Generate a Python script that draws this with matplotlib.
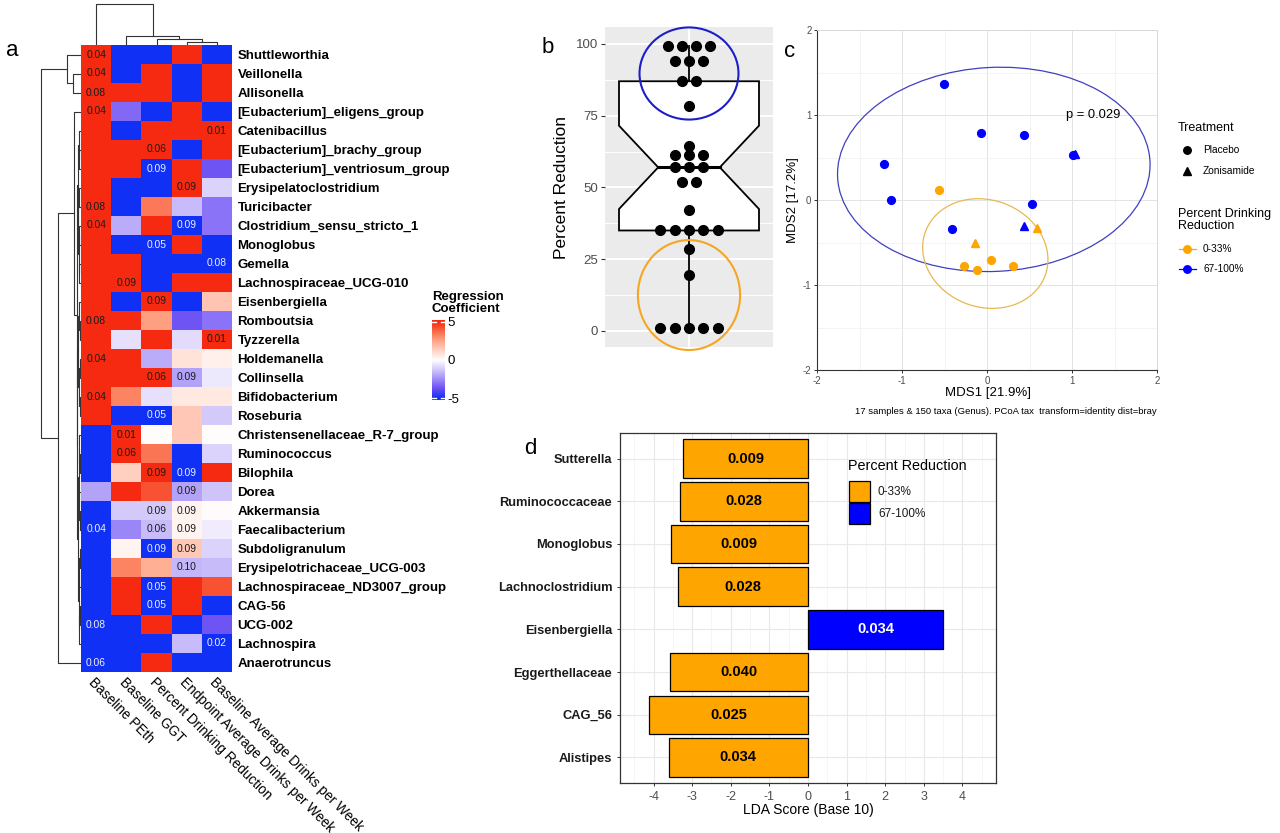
import numpy as np
import matplotlib
matplotlib.use('Agg')
import matplotlib.pyplot as plt
from matplotlib.colors import LinearSegmentedColormap
from matplotlib.patches import Ellipse, Polygon, Rectangle

plt.rcParams['font.family'] = ['Liberation Sans', 'DejaVu Sans']
plt.rcParams['axes.unicode_minus'] = False

# ------------------------------------------------------------------ data
# panel a : regression coefficients (rows = taxa, cols = clinical variables)
hm_taxa = ['Shuttleworthia', 'Veillonella', 'Allisonella', '[Eubacterium]_eligens_group',
           'Catenibacillus', '[Eubacterium]_brachy_group', '[Eubacterium]_ventriosum_group',
           'Erysipelatoclostridium', 'Turicibacter', 'Clostridium_sensu_stricto_1', 'Monoglobus',
           'Gemella', 'Lachnospiraceae_UCG-010', 'Eisenbergiella', 'Romboutsia', 'Tyzzerella',
           'Holdemanella', 'Collinsella', 'Bifidobacterium', 'Roseburia',
           'Christensenellaceae_R-7_group', 'Ruminococcus', 'Bilophila', 'Dorea', 'Akkermansia',
           'Faecalibacterium', 'Subdoligranulum', 'Erysipelotrichaceae_UCG-003',
           'Lachnospiraceae_ND3007_group', 'CAG-56', 'UCG-002', 'Lachnospira', 'Anaerotruncus']
hm_vars = ['Baseline PEth', 'Baseline GGT', 'Percent Drinking Reduction',
           'Endpoint Average Drinks per Week', 'Baseline Average Drinks per Week']
hm_coef = [
    [5, -5, -5, 5, -5],
    [5, -5, 5, -5, 5],
    [5, 5, 5, -5, 5],
    [5, -3.2, -5, 5, -5],
    [5, -5, 5, 5, 5],
    [5, 5, 5, -5, 5],
    [5, 5, -5, 5, -3.6],
    [5, -5, -5, 5, -1.0],
    [5, -5, 3.4, -1.5, -3.0],
    [5, -1.8, 5, -5, -3.0],
    [5, -5, -5, 5, -5],
    [5, 5, -5, -5, -5],
    [5, 5, -5, 5, 5],
    [5, -5, 5, -5, 1.6],
    [5, 5, 2.6, -3.6, -3.0],
    [5, -0.7, 5, -0.8, 5],
    [5, 5, -1.8, 0.8, 0.4],
    [5, 5, 5, -2.0, -0.5],
    [5, 3.2, -0.7, 0.6, 0.6],
    [5, -5, -5, 1.5, -1.2],
    [-5, 5, 0.05, 1.5, 0.05],
    [-5, 5, 3.5, -5, -1.0],
    [-5, 1.3, 5, -5, 5],
    [-2.0, 5, 4.2, -2.0, -1.3],
    [-5, -1.2, -1.2, 0.3, 0.1],
    [-5, -2.6, -1.5, 0.3, -0.4],
    [-5, 0.3, -5, 1.5, -1.0],
    [-5, 3.2, 2.2, -1.6, -1.5],
    [-5, 5, -5, 5, 4.2],
    [-5, 5, -5, 5, -5],
    [-5, -5, 5, -5, -3.6],
    [-5, -5, -5, -1.5, -5],
    [-5, -5, 5, -5, -5],
]
hm_pvals = [
    ['0.04', '', '', '', ''], ['0.04', '', '', '', ''], ['0.08', '', '', '', ''],
    ['0.04', '', '', '', ''], ['', '', '', '', '0.01'], ['', '', '0.06', '', ''],
    ['', '', '0.09', '', ''], ['', '', '', '0.09', ''], ['0.08', '', '', '', ''],
    ['0.04', '', '', '0.09', ''], ['', '', '0.05', '', ''], ['', '', '', '', '0.08'],
    ['', '0.09', '', '', ''], ['', '', '0.09', '', ''], ['0.08', '', '', '', ''],
    ['', '', '', '', '0.01'], ['0.04', '', '', '', ''], ['', '', '0.06', '0.09', ''],
    ['0.04', '', '', '', ''], ['', '', '0.05', '', ''], ['', '0.01', '', '', ''],
    ['', '0.06', '', '', ''], ['', '', '0.09', '0.09', ''], ['', '', '', '0.09', ''],
    ['', '', '0.09', '0.09', ''], ['0.04', '', '0.06', '0.09', ''], ['', '', '0.09', '0.09', ''],
    ['', '', '', '0.10', ''], ['', '', '0.05', '', ''], ['', '', '0.05', '', ''],
    ['0.08', '', '', '', ''], ['', '', '', '', '0.02'], ['0.06', '', '', '', ''],
]
# dendrograms: (height, left, right) ; leaves are row / column indices
row_tree = (1.0,
            (0.35, 0, (0.20, 1, 2)),
            (0.575,
             (0.175, 3,
              (0.10,
               (0.085, (0.06, 4, (0.045, 5, 6)),
                (0.07, (0.05, 7, 8), (0.06, (0.04, 9, 10), (0.05, 11, 12)))),
               (0.09,
                (0.065, (0.045, 13, (0.03, 14, 15)), (0.05, (0.035, 16, 17), (0.03, 18, 19))),
                (0.075, (0.055, (0.04, 20, (0.03, 21, 22)), (0.045, 23, (0.03, 24, 25))),
                 (0.06, (0.04, (0.03, 26, 27), 28), (0.05, (0.035, 29, 30), 31)))))),
             32))
col_tree = (1.0, 0, (0.22, 1, (0.146, 2, (0.073, 3, 4))))

# panel b : percent reduction
pct_reduction = [99.4, 99.4, 99.4, 99.4, 94, 94, 94, 87, 87, 78.5, 64.5, 61.3, 61.3, 61.3,
                 57, 57, 57, 52, 52, 42, 35, 35, 35, 35, 35, 28.5, 19.5, 1, 1, 1, 1, 1]

# panel c : PCoA
mds1 = [-0.505, -0.07, 0.43, -1.21, -1.13, 0.525, -0.41, 1.01, 1.04, 0.43,
        -0.56, 0.045, -0.27, -0.115, 0.30, -0.145, 0.59]
mds2 = [1.36, 0.79, 0.765, 0.42, 0.0, -0.045, -0.345, 0.53, 0.545, -0.30,
        0.12, -0.70, -0.78, -0.825, -0.775, -0.50, -0.33]
treatment = ['Placebo'] * 8 + ['Zonisamide'] * 2 + ['Placebo'] * 5 + ['Zonisamide'] * 2
reduction_group = ['67-100%'] * 10 + ['0-33%'] * 7
# ellipse (center x, center y, width, height, angle)
ellipses_c = {'67-100%': (0.08, 0.36, 3.68, 2.40, 3), '0-33%': (-0.02, -0.63, 1.50, 1.26, -20)}

# panel d : LDA
lda_taxa = ['Sutterella', 'Ruminococcaceae', 'Monoglobus', 'Lachnoclostridium',
            'Eisenbergiella', 'Eggerthellaceae', 'CAG_56', 'Alistipes']
lda_score = [-3.24, -3.31, -3.56, -3.36, 3.50, -3.585, -4.11, -3.61]
lda_p = ['0.009', '0.028', '0.009', '0.028', '0.034', '0.040', '0.025', '0.034']
lda_group = ['0-33%'] * 4 + ['67-100%'] + ['0-33%'] * 3

ORANGE = '#FFA500'
BLUE = '#0000FF'
grp_col = {'0-33%': ORANGE, '67-100%': BLUE}

# ------------------------------------------------------------------ figure
W, H = 1280, 833
fig = plt.figure(figsize=(12.8, 8.33), dpi=100)


def px_axes(x0, y0, x1, y1):
    return fig.add_axes([x0 / W, 1 - y1 / H, (x1 - x0) / W, (y1 - y0) / H])


cmap = LinearSegmentedColormap.from_list('bwr_lab', [
    (0.0, '#1030F5'), (0.125, '#6A4EF4'), (0.25, '#A08CF8'), (0.375, '#D2C8FA'),
    (0.5, '#FFFFFF'), (0.625, '#FFD2C3'), (0.75, '#FFA587'), (0.875, '#FA6A48'),
    (1.0, '#F52A10')])

# ---- heatmap
ax_hm = px_axes(81, 45, 232, 672)
M = np.array(hm_coef, dtype=float)
nr, nc = M.shape
ax_hm.imshow(M, cmap=cmap, vmin=-5, vmax=5, aspect='auto', interpolation='nearest',
             extent=(0, nc, nr, 0))
ax_hm.set_xlim(0, nc)
ax_hm.set_ylim(nr, 0)
for i, row in enumerate(hm_pvals):
    for j, s in enumerate(row):
        if s:
            ax_hm.text(j + 0.5, i + 0.5, s, ha='center', va='center', fontsize=7.4,
                       color='#EEF0FF' if M[i, j] < -2.5 else '#1a1a1a')
ax_hm.set_yticks(np.arange(nr) + 0.5)
ax_hm.set_yticklabels(hm_taxa, fontweight='bold', fontsize=9.5)
ax_hm.yaxis.tick_right()
ax_hm.tick_params(axis='y', length=0, pad=4)
ax_hm.set_xticks(np.arange(nc) + 0.5)
ax_hm.set_xticklabels(hm_vars, rotation=-45, ha='left', va='top', rotation_mode='anchor',
                      fontsize=9.8)
ax_hm.tick_params(axis='x', length=0, pad=2)
for s in ax_hm.spines.values():
    s.set_visible(False)


def draw_tree(ax, node, orient):
    if isinstance(node, int):
        return node + 0.5, 0.0
    h, l, r = node
    cl, hl = draw_tree(ax, l, orient)
    cr, hr = draw_tree(ax, r, orient)
    if orient == 'left':
        ax.plot([hl, h, h, hr], [cl, cl, cr, cr], color='#333333', lw=0.8)
    else:
        ax.plot([cl, cl, cr, cr], [hl, h, h, hr], color='#333333', lw=0.8)
    return (cl + cr) / 2, h


ax_rd = px_axes(38, 45, 81, 672)
draw_tree(ax_rd, row_tree, 'left')
ax_rd.set_xlim(1.075, 0)
ax_rd.set_ylim(nr, 0)
ax_rd.axis('off')

ax_cd = px_axes(81, 2, 232, 45)
draw_tree(ax_cd, col_tree, 'top')
ax_cd.set_xlim(0, nc)
ax_cd.set_ylim(0, 1.05)
ax_cd.axis('off')

# ---- colorbar
ax_cb = px_axes(432, 320, 445, 400)
grad = np.linspace(5.2, -5.2, 200).reshape(-1, 1)
ax_cb.imshow(grad, cmap=cmap, vmin=-5, vmax=5, aspect='auto', extent=(0, 1, -5.2, 5.2))
ax_cb.set_xlim(0, 1)
ax_cb.set_ylim(-5.2, 5.2)
for v in (5, -5):
    ax_cb.plot([0, 0.3], [v, v], color='white', lw=1)
    ax_cb.plot([0.7, 1], [v, v], color='white', lw=1)
ax_cb.set_xticks([])
ax_cb.set_yticks([5, 0, -5])
ax_cb.set_yticklabels(['5', '0', '-5'], fontsize=9.5)
ax_cb.yaxis.tick_right()
ax_cb.tick_params(axis='y', length=0, pad=2)
for s in ax_cb.spines.values():
    s.set_visible(False)

# ---- panel b
ax_b = px_axes(605, 27, 773, 347)
ax_b.set_facecolor('#EBEBEB')
ax_b.set_xlim(0.4, 1.6)
ax_b.set_ylim(-5.6, 105.9)
ax_b.set_yticks([0, 25, 50, 75, 100])
ax_b.set_yticks([12.5, 37.5, 62.5, 87.5], minor=True)
ax_b.set_xticks([1])
ax_b.set_xticklabels([])
ax_b.tick_params(axis='x', length=0)
ax_b.tick_params(axis='y', which='major', length=3, color='#333333', labelcolor='#4D4D4D',
                 labelsize=9.5, pad=2)
ax_b.tick_params(axis='y', which='minor', length=0)
ax_b.grid(which='major', color='white', lw=1.4)
ax_b.grid(which='minor', axis='y', color='white', lw=0.7)
ax_b.set_axisbelow(True)
for s in ax_b.spines.values():
    s.set_visible(False)

vals = np.array(pct_reduction)
q1, med, q3 = np.percentile(vals, [25, 50, 75])
iqr = q3 - q1
notch = 1.58 * iqr / np.sqrt(len(vals))
n_lo, n_hi = med - notch, med + notch
lo_w = vals[vals >= q1 - 1.5 * iqr].min()
hi_w = vals[vals <= q3 + 1.5 * iqr].max()
ax_b.plot([1, 1], [q3, hi_w], color='black', lw=1.3, zorder=2)
ax_b.plot([1, 1], [lo_w, q1], color='black', lw=1.3, zorder=2)
nh = 0.22
box = Polygon([(0.5, q1), (1.5, q1), (1.5, n_lo), (1 + nh, med), (1.5, n_hi), (1.5, q3),
               (0.5, q3), (0.5, n_hi), (1 - nh, med), (0.5, n_lo)], closed=True,
              facecolor='white', edgecolor='black', lw=1.3, zorder=3)
ax_b.add_patch(box)
ax_b.plot([1 - nh, 1 + nh], [med, med], color='black', lw=2.2, zorder=4)
uniq, counts = np.unique(vals, return_counts=True)
for v, n in zip(uniq, counts):
    xs = 1 + (np.arange(n) - (n - 1) / 2) * 0.102
    ax_b.plot(xs, [v] * n, 'o', color='black', ms=7.0, zorder=5)
ax_b.add_patch(Ellipse((1, 89.7), 0.707, 32.1, fill=False, edgecolor='#1E1EC8', lw=1.5,
                       zorder=6, clip_on=False))
ax_b.add_patch(Ellipse((1, 12.5), 0.73, 38.3, fill=False, edgecolor='#F5A623', lw=1.5,
                       zorder=6, clip_on=False))

# ---- panel c
ax_c = px_axes(817, 30, 1157, 370)
ax_c.set_xlim(-2, 2)
ax_c.set_ylim(-2, 2)
ax_c.set_xticks([-2, -1, 0, 1, 2])
ax_c.set_yticks([-2, -1, 0, 1, 2])
ax_c.set_xticks([-1.5, -0.5, 0.5, 1.5], minor=True)
ax_c.set_yticks([-1.5, -0.5, 0.5, 1.5], minor=True)
ax_c.grid(which='major', color='#E3E3E3', lw=0.7)
ax_c.grid(which='minor', color='#F0F0F0', lw=0.5)
ax_c.set_axisbelow(True)
ax_c.tick_params(which='major', length=2.5, width=0.7, color='#333333', labelcolor='#4D4D4D',
                 labelsize=7, pad=1.5)
ax_c.tick_params(which='minor', length=0)
for k in ('left', 'bottom'):
    ax_c.spines[k].set_color('#333333')
    ax_c.spines[k].set_linewidth(0.8)
for k in ('top', 'right'):
    ax_c.spines[k].set_color('#D8D8D8')
    ax_c.spines[k].set_linewidth(0.7)
for g, (cx, cy, ew, eh, ang) in ellipses_c.items():
    ax_c.add_patch(Ellipse((cx, cy), ew, eh, angle=ang, fill=False,
                           edgecolor='#4040C0' if g == '67-100%' else '#E8B850', lw=0.9))
for x, y, t, g in zip(mds1, mds2, treatment, reduction_group):
    ax_c.plot(x, y, 'o' if t == 'Placebo' else '^', color=grp_col[g],
              ms=5.6 if t == 'Placebo' else 6.4, zorder=4)
ax_c.text(1.25, 0.995, 'p = 0.029', ha='center', va='center', fontsize=9.3)

# ---- panel d
ax_d = px_axes(620, 433, 996, 783)
ypos = np.arange(1, len(lda_taxa) + 1)
ax_d.barh(ypos, lda_score, height=0.9, color=[grp_col[g] for g in lda_group],
          edgecolor='black', lw=0.9, zorder=3)
for y, v, p, g in zip(ypos, lda_score, lda_p, lda_group):
    ax_d.text(v / 2, y, p, ha='center', va='center', fontsize=10.5, fontweight='bold',
              color='white' if g == '67-100%' else 'black', zorder=4)
ax_d.set_xlim(-4.87, 4.87)
ax_d.set_ylim(len(lda_taxa) + 0.6, 0.4)
ax_d.set_xticks(np.arange(-4, 5))
ax_d.set_xticklabels([str(v) for v in range(-4, 5)])
ax_d.set_xticks(np.arange(-4.5, 5, 1), minor=True)
ax_d.set_yticks(ypos)
ax_d.set_yticklabels(lda_taxa, fontweight='bold', fontsize=9.3)
ax_d.grid(which='major', color='#E8E8E8', lw=0.8)
ax_d.grid(which='minor', axis='x', color='#F2F2F2', lw=0.5)
ax_d.set_axisbelow(True)
ax_d.tick_params(which='major', length=2.5, width=0.7, color='#333333', pad=3)
ax_d.tick_params(axis='x', labelsize=9, labelcolor='#4D4D4D')
ax_d.tick_params(axis='y', labelcolor='#1A1A1A')
ax_d.tick_params(which='minor', length=0)
for s in ax_d.spines.values():
    s.set_color('#333333')
    s.set_linewidth(0.9)

# ---- overlay for labels / legends (pixel coordinates)
ax_o = fig.add_axes([0, 0, 1, 1])
ax_o.set_xlim(0, W)
ax_o.set_ylim(H, 0)
ax_o.axis('off')
ax_o.patch.set_alpha(0)

for lab, (x, y) in {'a': (12, 50), 'b': (548, 47), 'c': (790, 51), 'd': (530, 448)}.items():
    ax_o.text(x, y, lab, ha='center', va='center', fontsize=16)

ax_o.text(432, 303, 'Regression\nCoefficient', ha='left', va='center', fontsize=9.5,
          fontweight='bold', linespacing=1.1)
ax_o.text(562, 187, 'Percent Reduction', ha='center', va='center', rotation=90, fontsize=12.5)
ax_o.text(988, 393, 'MDS1 [21.9%]', ha='center', va='center', fontsize=9.5)
ax_o.text(793, 200, 'MDS2 [17.2%]', ha='center', va='center', rotation=90, fontsize=9.5)
ax_o.text(1157, 411.5, '17 samples & 150 taxa (Genus). PCoA tax  transform=identity dist=bray',
          ha='right', va='center', fontsize=6.8)
ax_o.text(808, 810, 'LDA Score (Base 10)', ha='center', va='center', fontsize=10)

# legend c
ax_o.text(1178, 128, 'Treatment', ha='left', va='center', fontsize=9)
ax_o.plot([1187], [150], 'o', color='black', ms=5.4)
ax_o.plot([1187], [171], '^', color='black', ms=6.4)
ax_o.text(1203, 150, 'Placebo', ha='left', va='center', fontsize=7.3)
ax_o.text(1203, 171, 'Zonisamide', ha='left', va='center', fontsize=7.3)
ax_o.text(1178, 220, 'Percent Drinking\nReduction', ha='left', va='center', fontsize=9,
          linespacing=1.05)
for yy, g in ((249, '0-33%'), (269, '67-100%')):
    ax_o.plot([1179, 1196], [yy, yy], color=grp_col[g], lw=0.9)
    ax_o.plot([1187], [yy], 'o', color=grp_col[g], ms=5.4)
    ax_o.text(1203, yy, g, ha='left', va='center', fontsize=7.3)

# legend d
ax_o.text(848, 466, 'Percent Reduction', ha='left', va='center', fontsize=10.4)
for yy, g in ((481, '0-33%'), (503, '67-100%')):
    ax_o.add_patch(Rectangle((849, yy), 21, 21, facecolor=grp_col[g], edgecolor='black', lw=0.9))
    ax_o.text(878, yy + 11, g, ha='left', va='center', fontsize=8.5, color='#1A1A1A')

fig.savefig('out.png', dpi=100)
